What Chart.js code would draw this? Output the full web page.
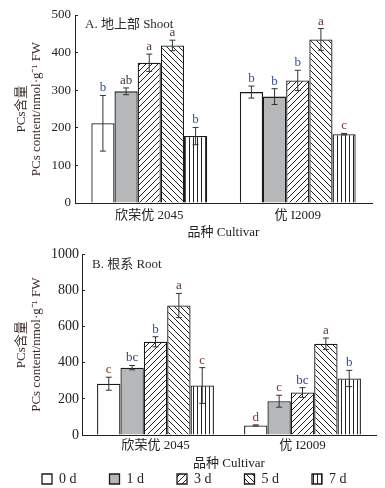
<!DOCTYPE html>
<html>
<head>
<meta charset="utf-8">
<script src="https://cdn.jsdelivr.net/npm/chart.js@4.4.1/dist/chart.umd.min.js"></script>
<style>
    html, body { margin: 0; padding: 0; background: #fff; overflow: hidden; }
    #wrapA { position: absolute; left: 0; top: 0; width: 385px; height: 240px; }
    #wrapB { position: absolute; left: 0; top: 240px; width: 385px; height: 256px; }
</style>
</head>
<body>
<div id="wrapA"><canvas id="chartA"></canvas></div>
<div id="wrapB"><canvas id="chartB"></canvas></div>
<script>
const cultivars = ['欣荣优 2045', '优 I2009'];
const days = ['0 d', '1 d', '3 d', '5 d', '7 d'];

// one row per day: [欣荣优 2045, 优 I2009]
const shootMean = [[212, 295], [297, 283], [373, 326], [419, 435], [178, 183]];
const shootErr = [[74, 16], [9, 21], [23, 27], [14, 29], [23, 2]];
const shootLetters = [['b', 'b'], ['ab', 'b'], ['a', 'b'], ['a', 'a'], ['b', 'c']];

const rootMean = [[284, 53], [373, 187], [516, 235], [717, 505], [274, 313]];
const rootErr = [[36, 3], [12, 33], [28, 27], [67, 32], [99, 45]];
const rootLetters = [['c', 'd'], ['bc', 'c'], ['b', 'bc'], ['a', 'a'], ['c', 'b']];

const FONT = '"Liberation Serif", "Noto Sans CJK SC", serif';
const letterColors = { a: '#5a3626', ab: '#4a3430', b: '#2f4f98', bc: '#33457a', c: '#7a3e2a', d: '#8a3828' };

function makePattern(kind) {
    const s = kind === 'vert' ? 4 : 6;
    const c = document.createElement('canvas');
    c.width = s;
    c.height = s;
    const g = c.getContext('2d');
    g.fillStyle = '#fff';
    g.fillRect(0, 0, s, s);
    g.strokeStyle = '#222';
    g.lineWidth = 1;
    g.beginPath();
    if (kind === 'fwd') {
        g.moveTo(0, s); g.lineTo(s, 0);
        g.moveTo(-1, 1); g.lineTo(1, -1);
        g.moveTo(s - 1, s + 1); g.lineTo(s + 1, s - 1);
    } else if (kind === 'back') {
        g.moveTo(0, 0); g.lineTo(s, s);
        g.moveTo(-1, s - 1); g.lineTo(1, s + 1);
        g.moveTo(s - 1, -1); g.lineTo(s + 1, 1);
    } else {
        g.moveTo(1.5, 0); g.lineTo(1.5, s);
    }
    g.stroke();
    return g.createPattern(c, 'repeat');
}

const fills = ['#ffffff', '#b6b7b9', makePattern('fwd'), makePattern('back'), makePattern('vert')];

// error bars and significance letters, placed from the bar elements
const errorBars = {
    id: 'errorBars',
    afterDatasetsDraw(chart) {
        const ctx = chart.ctx;
        const y = chart.scales.y;
        ctx.save();
        chart.data.datasets.forEach((ds, i) => {
            const meta = chart.getDatasetMeta(i);
            meta.data.forEach((bar, j) => {
                const v = ds.data[j];
                const e = ds.errors[j];
                const top = y.getPixelForValue(v + e);
                const bot = y.getPixelForValue(v - e);
                ctx.strokeStyle = '#333';
                ctx.lineWidth = 1;
                ctx.beginPath();
                ctx.moveTo(bar.x, top); ctx.lineTo(bar.x, bot);
                ctx.moveTo(bar.x - 3, top); ctx.lineTo(bar.x + 3, top);
                ctx.moveTo(bar.x - 3, bot); ctx.lineTo(bar.x + 3, bot);
                ctx.stroke();
                const lt = ds.letters[j];
                ctx.fillStyle = letterColors[lt] || '#333';
                ctx.font = '13px ' + FONT;
                ctx.textAlign = 'center';
                ctx.textBaseline = 'alphabetic';
                ctx.fillText(lt, bar.x, top - 4);
            });
        });
        ctx.restore();
    }
};

const panelLabel = {
    id: 'panelLabel',
    afterDraw(chart, args, opts) {
        const ctx = chart.ctx;
        ctx.save();
        ctx.fillStyle = '#2a2a2a';
        ctx.font = '13px ' + FONT;
        ctx.textAlign = 'left';
        ctx.textBaseline = 'middle';
        ctx.fillText(opts.text, chart.chartArea.left + 10, chart.chartArea.top + 10);
        ctx.restore();
    }
};

function buildDatasets(means, errs, letters, catPct) {
    return days.map((d, i) => ({
        label: d,
        data: means[i],
        errors: errs[i],
        letters: letters[i],
        backgroundColor: fills[i],
        borderColor: '#1a1a1a',
        borderWidth: 1.3,
        barPercentage: 1,
        categoryPercentage: catPct
    }));
}

function buildOptions(cfg) {
    return {
        responsive: true,
        maintainAspectRatio: false,
        animation: false,
        layout: { padding: { top: cfg.padTop, right: cfg.padRight, left: 0, bottom: 0 } },
        plugins: {
            tooltip: { enabled: false },
            panelLabel: { text: cfg.label },
            legend: {
                display: cfg.legend,
                position: 'bottom',
                align: 'end',
                labels: {
                    boxWidth: 10,
                    boxHeight: 10,
                    padding: 5,
                    color: '#222',
                    font: { family: FONT, size: 14 },
                    generateLabels(chart) {
                        const items = Chart.defaults.plugins.legend.labels.generateLabels(chart);
                        items.forEach((it, k) => {
                            it.text = it.text + ' '.repeat(k < items.length - 1 ? 8 : 7);
                        });
                        return items;
                    }
                }
            }
        },
        scales: {
            x: {
                afterFit(scale) { scale.height = cfg.xHeight; },
                grid: { display: false, drawTicks: false },
                border: { display: true, color: '#222', width: 1 },
                ticks: { color: '#222', padding: cfg.xTickPad, font: { family: FONT, size: 13 } },
                title: {
                    display: true,
                    text: '品种 Cultivar',
                    color: '#222',
                    padding: { top: 0, bottom: cfg.xTitlePad },
                    font: { family: FONT, size: 13 }
                }
            },
            y: {
                min: 0,
                max: cfg.yMax,
                afterFit(scale) { scale.width = cfg.axisLeft; },
                grid: { drawOnChartArea: false, drawTicks: true, tickLength: -3, color: '#222' },
                border: { display: true, color: '#222', width: 1 },
                ticks: {
                    stepSize: cfg.step,
                    color: '#222',
                    padding: cfg.tickPad,
                    font: { family: FONT, size: cfg.tickSize },
                    callback: v => String(v)
                },
                title: {
                    display: true,
                    text: ['PCs含量', 'PCs content/nmol·g⁻¹ FW'],
                    color: '#3b2a26',
                    padding: { top: 14.5, bottom: 0 },
                    font: { family: FONT, size: 13, lineHeight: 1.15 }
                }
            }
        }
    };
}

new Chart(document.getElementById('chartA'), {
    type: 'bar',
    data: { labels: cultivars, datasets: buildDatasets(shootMean, shootErr, shootLetters, 0.78) },
    options: buildOptions({
        label: 'A. 地上部 Shoot', yMax: 500, step: 100, padTop: 15, padRight: 13,
        axisLeft: 75, xHeight: 37, xTickPad: 5, xTitlePad: 0, tickPad: 7, tickSize: 13, legend: false
    }),
    plugins: [errorBars, panelLabel]
});

new Chart(document.getElementById('chartB'), {
    type: 'bar',
    data: { labels: cultivars, datasets: buildDatasets(rootMean, rootErr, rootLetters, 0.795) },
    options: buildOptions({
        label: 'B. 根系 Root', yMax: 1000, step: 200, padTop: 7, padRight: 9,
        axisLeft: 82, xHeight: 32, xTickPad: 3, xTitlePad: -4, tickPad: 6, tickSize: 14, legend: true
    }),
    plugins: [errorBars, panelLabel]
});
</script>
</body>
</html>
